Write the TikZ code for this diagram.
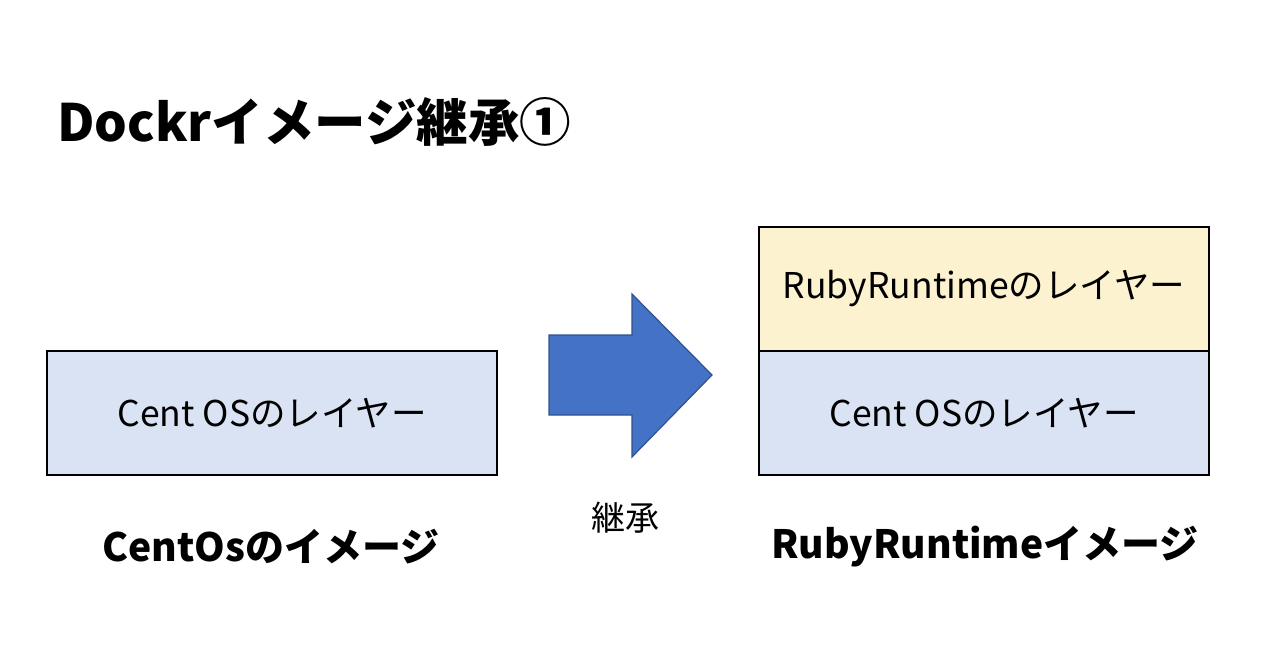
\documentclass[tikz,border=0pt]{standalone}
\usepackage{fontspec}
\setmainfont{Noto Sans CJK JP}
\begin{document}
\begin{tikzpicture}[x=1pt,y=-1pt,
  layer/.style={draw=black,line width=1.2pt,minimum width=450pt,minimum height=124pt,inner sep=0pt,font=\fontsize{35.5}{40}\selectfont},
  lbl/.style={font=\fontsize{39}{44}\selectfont\bfseries,inner sep=0pt}]
\useasboundingbox (0,0) rectangle (1276,670);
\definecolor{lblue}{HTML}{DAE3F3}
\definecolor{lyell}{HTML}{FCF2CF}
\definecolor{afill}{HTML}{4472C4}
\definecolor{aline}{HTML}{2F528F}
\node[anchor=base west,inner sep=0pt,font=\fontsize{51.5}{56}\selectfont\bfseries] (title) at (57,141) {Dockrイメージ継承①};
\node[layer,fill=lblue] (centL) at (272,413) {Cent OSのレイヤー};
\node[layer,fill=lyell] (ruby) at (984,289) {RubyRuntimeのレイヤー};
\node[layer,fill=lblue] (centR) at (984,413) {Cent OSのレイヤー};
\draw[fill=afill,draw=aline,line width=1.2pt] (549,335) -- (632,335) -- (632,294) -- (712,375) -- (632,457) -- (632,415) -- (549,415) -- cycle;
\node[inner sep=0pt,font=\fontsize{34}{38}\selectfont] (inh) at (625,518) {継承};
\node[lbl] (lblL) at (271,547) {CentOsのイメージ};
\node[lbl] (lblR) at (985,547) {RubyRuntimeイメージ};
\end{tikzpicture}
\end{document}
